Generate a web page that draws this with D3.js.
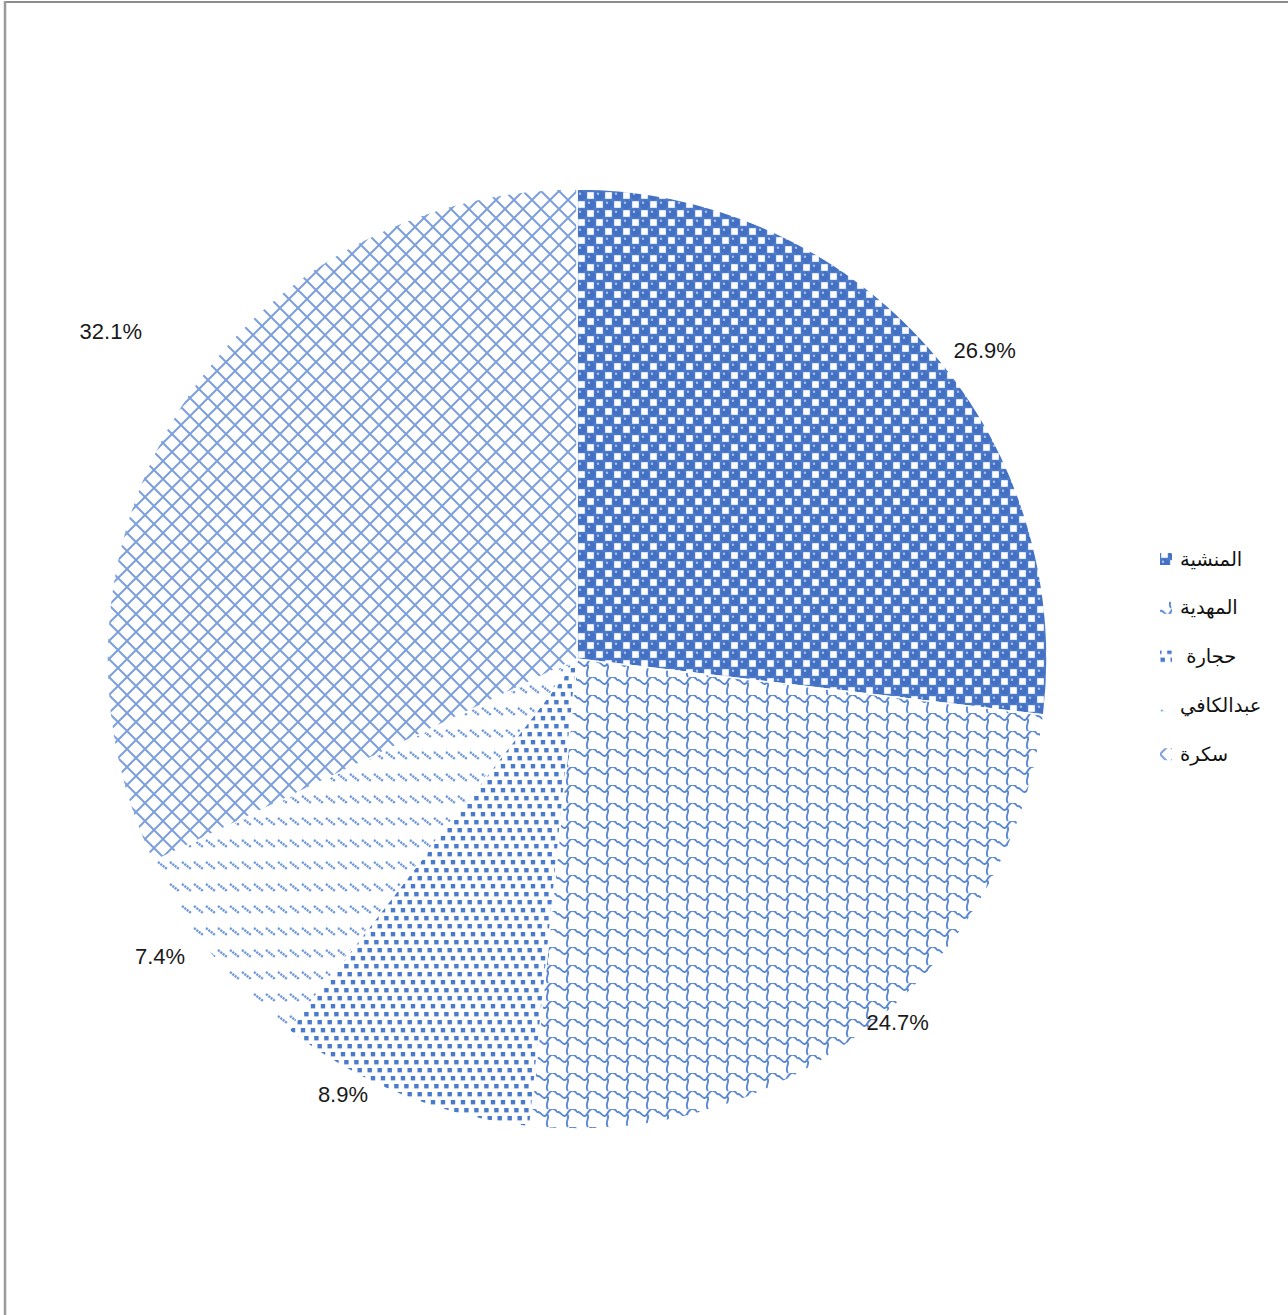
<!DOCTYPE html>
<html>
<head>
<meta charset="utf-8">
<script src="https://cdn.jsdelivr.net/npm/d3@7/dist/d3.min.js"></script>
<style>
  html, body { margin: 0; padding: 0; background: #fff; }
  svg { display: block; }
</style>
</head>
<body>
<svg id="chart" width="1288" height="1315"></svg>
<script>
// Share of each area (percent), drawn clockwise from 12 o'clock
const categories = ["المنشية", "المهدية", "حجارة ", "عبدالكافي", "سكرة"];
const shares = [26.9, 24.7, 8.9, 7.4, 32.1];
const shareLabels = ["26.9%", "24.7%", "8.9%", "7.4%", "32.1%"];

// Layout
const W = 1288, H = 1315;
const cx = 577, cy = 659, R = 470;
// label placement: angular nudge (degrees) and distance from the centre
const labelAngleNudge = [4.5, -2.7, 6.5, 3.4, 2.9];
const labelRadius = [511, 485, 494, 512, 570];
const legendX = 1160, legendTop = 559, legendStep = 48.8;

const svg = d3.select("#chart");
const defs = svg.append("defs");

// ---- fill patterns ----
function pattern(id, w, h) {
  return defs.append("pattern")
    .attr("id", id)
    .attr("patternUnits", "userSpaceOnUse")
    .attr("width", w).attr("height", h);
}

// spheres: blue field with a checkerboard of white squares
{
  const p = pattern("pSphere", 18, 18);
  p.append("rect").attr("width", 18).attr("height", 18).attr("fill", "#4d7bca");
  [[0, 0], [9, 9]].forEach(([x, y]) => {
    p.append("circle").attr("cx", x + 4.5).attr("cy", y + 4.5).attr("r", 4.6).attr("fill", "#4370c2");
    p.append("circle").attr("cx", x + 3.0).attr("cy", y + 2.8).attr("r", 1.2).attr("fill", "#a9c2ec");
  });
  [[9, 0], [0, 9]].forEach(([x, y]) => {
    p.append("rect").attr("x", x + 1.2).attr("y", y + 1.2).attr("width", 6.6).attr("height", 6.6)
      .attr("fill", "#ffffff");
  });
}

// wave: a wavy row per tile with a curved link down to the next row
{
  const p = pattern("pWave", 20, 18);
  p.append("rect").attr("width", 20).attr("height", 18).attr("fill", "#fff");
  p.append("path")
    .attr("d", [
      "M-2,5 C3,-2 6,12 10,5 S17,-2 22,5",
      "M10,5 C14,8 7,13 11,18",
      "M10,-13 C14,-10 7,-5 11,0",
      "M-2,23 C3,16 6,30 10,23"
    ].join(" "))
    .attr("fill", "none").attr("stroke", "#5b88d3").attr("stroke-width", 1.9);
}

// small staggered squares
{
  const p = pattern("pSquares", 10, 24);
  p.append("rect").attr("width", 10).attr("height", 24).attr("fill", "#fff");
  [[0.5, 1], [3.8, 9], [7.2, 17], [-2.8, 17]].forEach(([x, y]) => {
    p.append("rect").attr("x", x).attr("y", y).attr("width", 4.4).attr("height", 4.4).attr("fill", "#4a7acb");
  });
}

// rows of short dotted diagonal dashes
{
  const p = pattern("pDash", 12, 22);
  p.append("rect").attr("width", 12).attr("height", 22).attr("fill", "#fff");
  p.append("path")
    .attr("d", "M1,5 L10,12")
    .attr("fill", "none").attr("stroke", "#6f97da").attr("stroke-width", 2.4)
    .attr("stroke-dasharray", "2.2,0.8");
}

// diagonal crosshatch
{
  const p = pattern("pCross", 18, 18);
  p.append("rect").attr("width", 18).attr("height", 18).attr("fill", "#fff");
  p.append("path")
    .attr("d", "M-2,-2 L20,20 M20,-2 L-2,20")
    .attr("fill", "none").attr("stroke", "#7d9fdc").attr("stroke-width", 2);
}

const fills = ["url(#pSphere)", "url(#pWave)", "url(#pSquares)", "url(#pDash)", "url(#pCross)"];

// ---- frame ----
svg.append("line").attr("x1", 4).attr("x2", W).attr("y1", 2).attr("y2", 2)
  .attr("stroke", "#8c8c8c").attr("stroke-width", 2);
svg.append("line").attr("x1", 5).attr("x2", 5).attr("y1", 1).attr("y2", H)
  .attr("stroke", "#9a9a9a").attr("stroke-width", 2.5);

// ---- pie ----
const pie = d3.pie().sort(null).value(d => d)
  .startAngle(0).endAngle(2 * Math.PI);
const arcs = pie(shares);
const arc = d3.arc().innerRadius(0).outerRadius(R);

const g = svg.append("g").attr("transform", `translate(${cx},${cy})`);
g.selectAll("path.slice")
  .data(arcs)
  .join("path")
  .attr("class", "slice")
  .attr("d", arc)
  .attr("fill", (d, i) => fills[i])
  .attr("stroke", "#fff")
  .attr("stroke-width", 1.5);

// ---- value labels ----
function labelPos(d, i) {
  const a = (d.startAngle + d.endAngle) / 2 + labelAngleNudge[i] * Math.PI / 180;
  return [labelRadius[i] * Math.sin(a), -labelRadius[i] * Math.cos(a)];
}
g.selectAll("text.val")
  .data(arcs)
  .join("text")
  .attr("class", "val")
  .attr("x", (d, i) => labelPos(d, i)[0])
  .attr("y", (d, i) => labelPos(d, i)[1])
  .attr("text-anchor", "middle")
  .attr("dominant-baseline", "central")
  .attr("font-family", "'Liberation Sans', Arial, sans-serif")
  .attr("font-size", 22)
  .attr("fill", "#1a1a1a")
  .text((d, i) => shareLabels[i]);

// ---- legend ----
const legend = svg.append("g");
const items = legend.selectAll("g.item")
  .data(categories)
  .join("g")
  .attr("class", "item")
  .attr("transform", (d, i) => `translate(${legendX},${legendTop + i * legendStep})`);

items.append("rect")
  .attr("x", 0).attr("y", -6)
  .attr("width", 12).attr("height", 12)
  .attr("fill", (d, i) => fills[i]);

items.append("text")
  .attr("x", 20)
  .attr("y", 0)
  .attr("direction", "rtl")
  .attr("text-anchor", "end")
  .attr("dominant-baseline", "central")
  .attr("font-family", "'DejaVu Sans', 'Noto Sans', sans-serif")
  .attr("font-size", 19.5)
  .attr("fill", "#111")
  .style("white-space", "pre")
  .text(d => d);
</script>
</body>
</html>
